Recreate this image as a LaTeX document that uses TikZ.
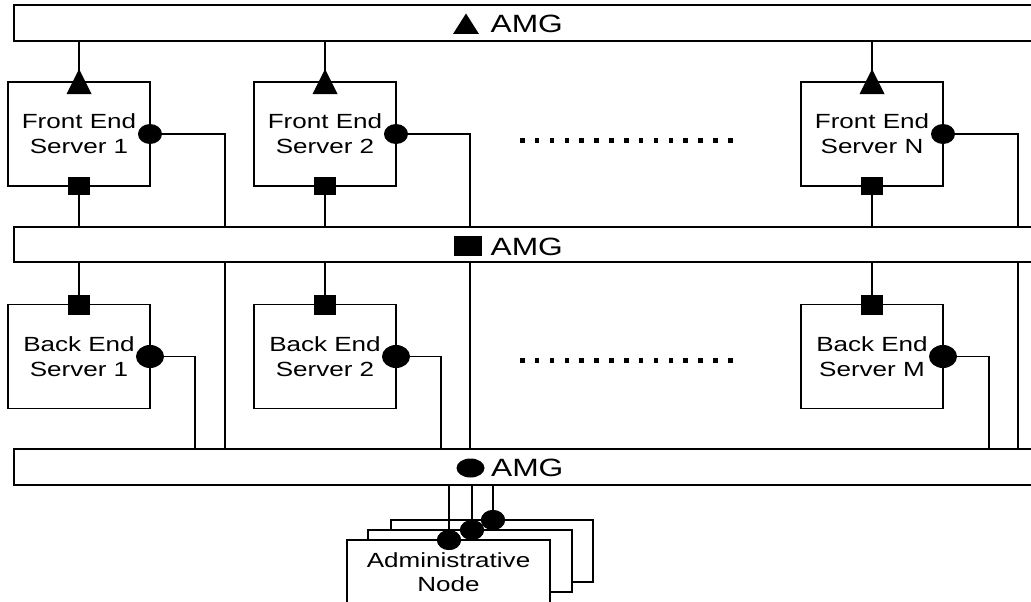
\documentclass[tikz,border=0pt]{standalone}
\usepackage{fontspec}
\setmainfont[FakeStretch=1.27]{Liberation Sans}
\usetikzlibrary{shapes.geometric}
\begin{document}
\begin{tikzpicture}[x=1pt,y=-1pt,line width=1.2pt,
  bar/.style={draw,fill=white,minimum height=36pt,minimum width=1040pt,anchor=north west,inner sep=0pt,outer sep=0pt},
  server/.style={draw,fill=white,minimum width=142pt,minimum height=104pt,align=center,
    font=\fontsize{20.5}{25}\selectfont,inner sep=0pt,outer sep=0pt},
  admin/.style={draw,fill=white,minimum width=203pt,minimum height=62pt,align=center,
    font=\fontsize{20.5}{24}\selectfont,inner sep=0pt,outer sep=0pt},
  sqmark/.style={fill=black,minimum width=22pt,minimum height=18pt,inner sep=0pt,outer sep=0pt},
  dotmark/.style={ellipse,fill=black,minimum width=24pt,minimum height=20pt,inner sep=0pt,outer sep=0pt},
  bigdot/.style={ellipse,fill=black,minimum width=28pt,minimum height=23pt,inner sep=0pt,outer sep=0pt},
  amglabel/.style={font=\fontsize{25}{30}\selectfont,inner sep=0pt,anchor=base west}]
\useasboundingbox (0,0) rectangle (1031,602);
\clip (0,0) rectangle (1031,602);

% drop points on the circle bar
\coordinate (d1) at (225,449);
\coordinate (d2) at (470,449);
\coordinate (d3) at (1018,449);
\coordinate (e1) at (195,449);
\coordinate (e2) at (441,449);
\coordinate (e3) at (989,449);

% server positions
\path (79,134) coordinate (pf1) (325,134) coordinate (pf2) (872,134) coordinate (pf3);
\path (79,356.5) coordinate (pb1) (325,356.5) coordinate (pb2) (872,356.5) coordinate (pb3);

% connectors to circle bar (drawn first, bars cover them)
\draw (150,134) -| (d1);
\draw (396,134) -| (d2);
\draw (943,134) -| (d3);
\draw (150,356.5) -| (e1);
\draw (396,356.5) -| (e2);
\draw (943,356.5) -| (e3);

% bars
\node[bar] (amgT) at (14,5) {};
\node[bar,minimum height=35pt] (amgS) at (14,227) {};
\node[bar] (amgC) at (14,449) {};

% bar labels
\fill (453,34) -- (479,34) -- (466,13.5) -- cycle;
\node[amglabel] (lT) at (490,33) {AMG};
\fill (454,236) rectangle (482,256);
\node[amglabel] (lS) at (490,255) {AMG};
\node[ellipse,fill=black,minimum width=28pt,minimum height=19pt,inner sep=0pt] (cC) at (470.5,468) {};
\node[amglabel] (lC) at (490.5,476) {AMG};

% front end servers
\node[server] (fes1) at (pf1) {Front End\\Server 1};
\node[server] (fes2) at (pf2) {Front End\\Server 2};
\node[server] (fesN) at (pf3) {Front End\\Server N};
% back end servers
\node[server] (bes1) at (pb1) {Back End\\Server 1};
\node[server] (bes2) at (pb2) {Back End\\Server 2};
\node[server] (besM) at (pb3) {Back End\\Server M};

% vertical links and markers
\foreach \s in {fes1,fes2,fesN}{
  \draw (\s.north) -- (\s.north |- amgT.south);
  \draw (\s.south) -- (\s.south |- amgS.north);
  \fill (\s.north) ++(-12.5,12) -- ++(25,0) -- ++(-12.5,-25) -- cycle;
  \node[sqmark] (\s sq) at (\s.south) {};
  \node[dotmark] (\s dot) at (\s.east) {};
}
\foreach \s in {bes1,bes2,besM}{
  \draw (\s.north) -- (\s.north |- amgS.south);
  \node[sqmark,minimum height=20pt] (\s sq) at (\s.north) {};
  \node[bigdot] (\s dot) at (\s.east) {};
}

% dotted ellipses
\foreach \i in {0,...,14}{
  \fill (520+\i*14.86,138) rectangle ++(4.5,4.5);
  \fill (520+\i*14.86,358) rectangle ++(4.5,4.5);
}

% administrative nodes
\node[admin,minimum width=202pt] (adm3) at (492,551) {};
\node[admin,minimum width=204pt] (adm2) at (470,561) {};
\node[admin,minimum height=64pt] (adm1) at (448.5,572) {Administrative\\Node};
\coordinate (a3) at (493,485);
\coordinate (a2) at (472,485);
\coordinate (a1) at (449,485);
\node[dotmark] (adm3c) at (493,520) {};
\node[dotmark] (adm2c) at (472,530) {};
\node[dotmark] (adm1c) at (449,540) {};
\draw (adm3c.center) -- (a3);
\draw (adm2c.center) -- (a2);
\draw (adm1c.center) -- (a1);
\node[dotmark] at (adm3c) {};
\node[dotmark] at (adm2c) {};
\node[dotmark] at (adm1c) {};
\end{tikzpicture}
\end{document}
